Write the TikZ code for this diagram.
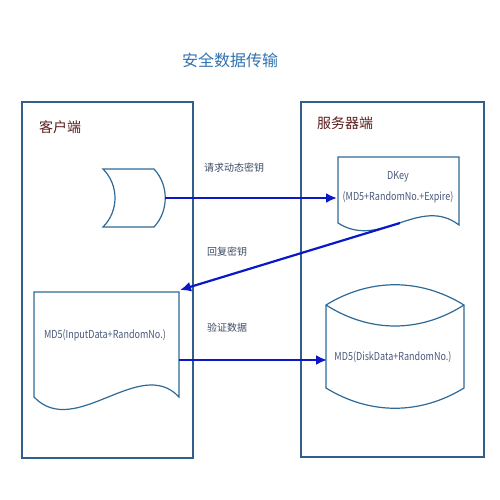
\documentclass[tikz,border=0pt]{standalone}
\usepackage{fontspec}
\setmainfont{Noto Sans CJK SC}
\usetikzlibrary{arrows.meta}

\definecolor{frameblue}{HTML}{2F5F8A}
\definecolor{shapeblue}{HTML}{2E6A98}
\definecolor{flowblue}{HTML}{0A18C8}
\definecolor{titleblue}{HTML}{2E72B0}
\definecolor{sidered}{HTML}{5A1C1C}
\definecolor{labelgray}{HTML}{3E4A62}
\definecolor{textgray}{HTML}{4A5A7C}

\newcommand\narrow[1]{\scalebox{0.82}[1]{#1}}

\tikzset{
  region/.style={draw=frameblue, line width=1.1pt},
  shapeline/.style={draw=shapeblue, line width=1.2pt, fill=white},
  flow/.style={draw=flowblue, line width=2.2pt, -{Latex[length=11pt,width=10pt]}},
  flowlabel/.style={text=labelgray, font=\fontsize{10}{12}\selectfont},
  sidetitle/.style={text=sidered, font=\fontsize{14}{16}\selectfont},
  shapetext/.style={text=textgray, font=\fontsize{11}{21}\selectfont, align=center}
}

\begin{document}
\begin{tikzpicture}[x=1pt, y=-1pt]

  \useasboundingbox (0,0) rectangle (500,500);

  % title
  \node[text=titleblue, font=\fontsize{16}{18}\selectfont] (title) at (230,60) {安全数据传输};

  % client and server regions
  \draw[region] (22,102) rectangle (193,458);
  \draw[region] (301,102) rectangle (484,457);
  \node[sidetitle] (client) at (60,127) {客户端};
  \node[sidetitle] (server) at (345,123) {服务器端};

  % stored data
  \draw[shapeline] (103,169) -- (154,169)
    .. controls (169,185) and (169,211) .. (154,227) -- (103,227)
    .. controls (119,211) and (119,185) .. (103,169) -- cycle;
  \coordinate (store) at (165,198);

  % DKey document
  \draw[shapeline] (338,157) -- (459,157) -- (459,225)
    .. controls (420,195) and (380,250) .. (338,223) -- cycle;
  \node[shapetext] (dkey) at (398,187) {\narrow{DKey}\\\narrow{(MD5+RandomNo.+Expire)}};
  \coordinate (dkey in) at (337,198);
  \coordinate (dkey out) at (400,223);

  % input document
  \draw[shapeline] (34,292) -- (179,292) -- (179,397)
    .. controls (140,355) and (75,440) .. (34,397) -- cycle;
  \node[shapetext] (input) at (105,335) {\narrow{MD5(InputData+RandomNo.)}};
  \coordinate (input in) at (180,290);
  \coordinate (input out) at (179,360);

  % disk data
  \draw[shapeline] (326,305) .. controls (370,278) and (420,278) .. (464,305)
    -- (464,388) .. controls (420,415) and (370,415) .. (326,388) -- cycle;
  \draw[shapeline] (326,305) .. controls (370,333) and (420,333) .. (464,305);
  \node[shapetext] (disk) at (393,357) {\narrow{MD5(DiskData+RandomNo.)}};
  \coordinate (disk in) at (327,360);

  % flows
  \draw[flow] (store) -- (dkey in);
  \node[flowlabel] (ask) at (234,168) {请求动态密钥};

  \draw[flow] (dkey out) -- (input in);
  \node[flowlabel] (reply) at (227,252) {回复密钥};

  \draw[flow] (input out) -- (disk in);
  \node[flowlabel] (check) at (227,328) {验证数据};

\end{tikzpicture}
\end{document}
